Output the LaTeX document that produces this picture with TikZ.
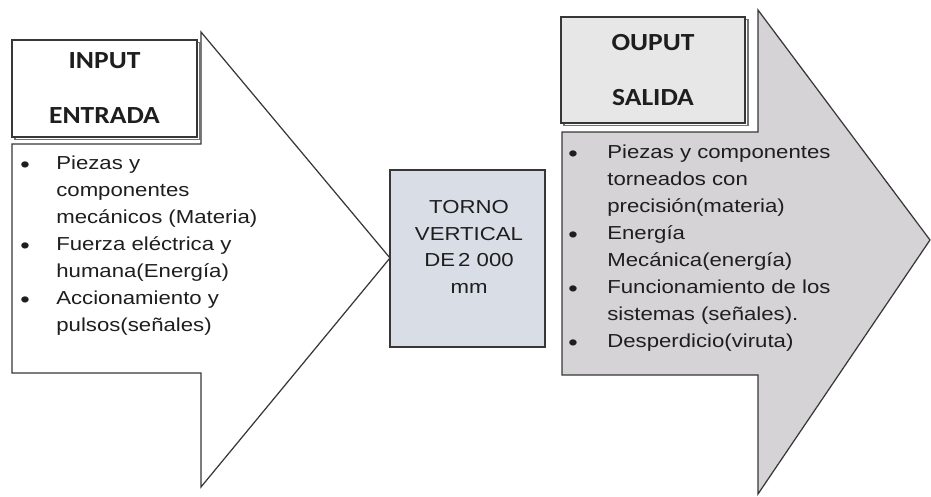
\documentclass[tikz,border=0pt]{standalone}
\usepackage{fontspec}
\setmainfont{Liberation Sans}[FakeStretch=1.18]
\newfontfamily\headfont{Carlito}[FakeStretch=1.12]
\usetikzlibrary{shadows}
\definecolor{linecol}{RGB}{55,55,55}
\definecolor{textcol}{RGB}{30,30,30}
\definecolor{outfill}{RGB}{213,211,213}
\definecolor{headfill}{RGB}{232,231,232}
\definecolor{tornofill}{RGB}{216,221,230}
\newcommand{\bigbul}{\raisebox{-1.8pt}{\fontsize{13}{13}\selectfont\textbullet}}

\begin{document}
\begin{tikzpicture}[
        %% units are pixels of the 931x497 sheet, y grows downwards
        x=0.02cm, y=-0.02cm,
        bigarrow/.style={draw=linecol, line width=0.7pt, line join=miter},
        headbox/.style={rectangle, draw=linecol, line width=0.7pt, fill=white, inner sep=0pt, align=center, text=textcol, font=\headfont\bfseries\fontsize{14}{31.3}\selectfont,
            drop shadow={shadow xshift=0.06cm, shadow yshift=-0.05cm, fill=none, draw=linecol!70, opacity=1, line width=0.6pt}},
        tornobox/.style={rectangle, draw=linecol, line width=0.7pt, fill=tornofill, minimum width=3.1cm, minimum height=3.54cm},
        tornotext/.style={align=center, inner sep=0pt, text=textcol, font=\fontsize{10.7}{15.1}\selectfont},
        listtext/.style={anchor=base west, inner sep=0pt, text=textcol, font=\fontsize{10.7}{15.37}\selectfont}
    ]
    \useasboundingbox (0,0) rectangle (931,497);

    %% --- Input arrow (white) ---
    \draw[bigarrow, fill=white] (12,144) -- (201,144) -- (201,32) -- (390,258)
        -- (201,487) -- (201,373) -- (12,373) -- cycle;

    %% --- Output arrow (grey) ---
    \draw[bigarrow, fill=outfill] (562,132) -- (758,132) -- (758,10) -- (930,240)
        -- (758,494) -- (758,375) -- (562,375) -- cycle;

    %% --- Headers ---
    \node[headbox, minimum width=3.7cm, minimum height=1.94cm] (inhead) at (104.5,88.5) {INPUT\\ENTRADA};
    \node[headbox, fill=headfill, minimum width=3.68cm, minimum height=2.12cm] (outhead) at (653,70) {OUPUT\\SALIDA};

    %% --- Process box ---
    \node[tornobox] (torno) at (467.5,258.5) {};
    \node[tornotext] (tornolabel) at (469,247) {TORNO\\VERTICAL\\DE\,2 000\\mm};

    %% --- Lists ---
    \node[listtext] (inlist) at (20,169) {\begin{tabular}[t]{@{}p{0.72cm}@{}l@{}}
        \bigbul & Piezas y\\
                & componentes\\
                & mecánicos (Materia)\\
        \bigbul & Fuerza eléctrica y\\
                & humana(Energía)\\
        \bigbul & Accionamiento y\\
                & pulsos(señales)
    \end{tabular}};
    \node[listtext] (outlist) at (568,158) {\begin{tabular}[t]{@{}p{0.78cm}@{}l@{}}
        \bigbul & Piezas y componentes\\
                & torneados con\\
                & precisión(materia)\\
        \bigbul & Energía\\
                & Mecánica(energía)\\
        \bigbul & Funcionamiento de los\\
                & sistemas (señales).\\
        \bigbul & Desperdicio(viruta)
    \end{tabular}};
\end{tikzpicture}
\end{document}
